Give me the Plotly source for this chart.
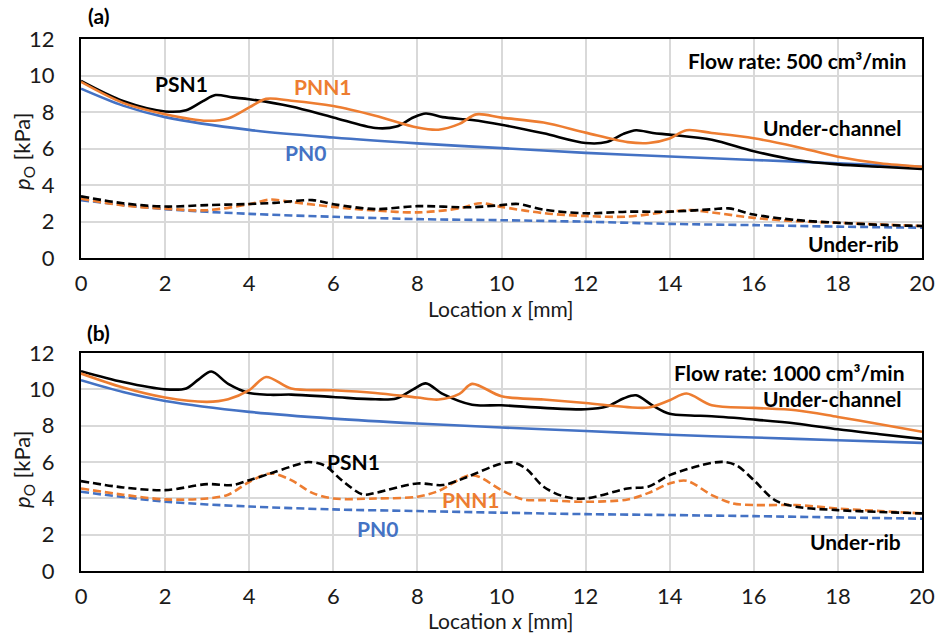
import plotly.graph_objects as go

# ---- Flow rate 500 cm3/min : under-channel (solid) ----
a_pn0_x = [0, 1, 2, 4, 6, 8, 10, 12, 14, 16, 18, 20]
a_pn0_y = [9.28, 8.35, 7.72, 7.02, 6.6, 6.28, 6.02, 5.76, 5.56, 5.37, 5.19, 5.0]

a_psn1_x = [0, 1, 2, 2.5, 2.9, 3.2, 3.6, 4, 5, 6, 7, 7.5, 7.9, 8.2, 8.6, 9.3, 10, 11, 12, 12.5, 12.9, 13.2, 13.6, 14, 15, 16, 17, 18, 19, 20]
a_psn1_y = [9.7, 8.6, 8.03, 8.1, 8.6, 8.93, 8.8, 8.7, 8.3, 7.7, 7.12, 7.2, 7.7, 7.92, 7.72, 7.56, 7.3, 6.83, 6.3, 6.35, 6.8, 7.0, 6.85, 6.76, 6.48, 5.85, 5.37, 5.13, 5.0, 4.88]

a_pnn1_x = [0, 1, 2, 3, 3.5, 4, 4.4, 5, 6, 7, 8, 8.5, 9, 9.4, 10, 11, 12, 13, 13.5, 14, 14.4, 15, 16, 17, 18, 19, 20]
a_pnn1_y = [9.65, 8.5, 7.88, 7.52, 7.65, 8.25, 8.72, 8.62, 8.33, 7.8, 7.15, 7.03, 7.35, 7.87, 7.69, 7.42, 6.87, 6.35, 6.3, 6.55, 7.0, 6.85, 6.56, 6.1, 5.55, 5.19, 5.0]

# ---- Flow rate 500 cm3/min : under-rib (dashed) ----
a_pn0r_x = [0, 2, 4, 6, 8, 10, 12, 14, 16, 18, 20]
a_pn0r_y = [3.17, 2.68, 2.42, 2.26, 2.13, 2.07, 1.99, 1.87, 1.8, 1.72, 1.66]

a_psn1r_x = [0, 1, 2, 3, 4, 4.6, 5.5, 6, 7, 8, 9.3, 10, 10.4, 11, 12, 13, 14, 15, 15.4, 16, 17, 18, 19, 20]
a_psn1r_y = [3.38, 3.0, 2.82, 2.9, 2.96, 3.02, 3.17, 2.95, 2.68, 2.84, 2.78, 2.9, 2.96, 2.65, 2.45, 2.54, 2.54, 2.67, 2.72, 2.38, 2.08, 1.93, 1.82, 1.75]

a_pnn1r_x = [0, 1, 2, 3, 4, 4.5, 5, 6, 7, 8, 9, 9.5, 10, 11, 12, 13, 14, 14.5, 15, 16, 17, 18, 19, 20]
a_pnn1r_y = [3.25, 2.88, 2.7, 2.62, 2.95, 3.2, 3.07, 2.8, 2.6, 2.5, 2.72, 3.0, 2.8, 2.46, 2.3, 2.27, 2.54, 2.63, 2.5, 2.2, 2.02, 1.93, 1.84, 1.75]

# ---- Flow rate 1000 cm3/min : under-channel (solid) ----
b_pn0_x = [0, 1, 2, 4, 6, 8, 10, 12, 14, 16, 18, 20]
b_pn0_y = [10.5, 9.85, 9.36, 8.76, 8.39, 8.12, 7.9, 7.71, 7.5, 7.35, 7.2, 7.05]

b_psn1_x = [0, 1, 2, 2.5, 2.8, 3.1, 3.5, 4, 4.5, 5, 6, 7, 7.5, 7.9, 8.2, 8.6, 9.3, 10, 11, 12, 12.5, 12.9, 13.2, 13.6, 14, 14.5, 15, 16, 17, 18, 19, 20]
b_psn1_y = [11.0, 10.4, 10.0, 10.05, 10.55, 10.98, 10.3, 9.8, 9.7, 9.71, 9.58, 9.45, 9.5, 10.0, 10.33, 9.75, 9.15, 9.12, 8.98, 8.9, 9.05, 9.5, 9.67, 9.1, 8.65, 8.56, 8.52, 8.34, 8.12, 7.8, 7.53, 7.27]

b_pnn1_x = [0, 1, 2, 3, 3.5, 4, 4.4, 5, 6, 7, 8, 8.5, 9, 9.3, 10, 11, 12, 13, 13.5, 14, 14.4, 15, 16, 17, 18, 19, 20]
b_pnn1_y = [10.87, 10.1, 9.55, 9.31, 9.45, 9.95, 10.68, 10.04, 9.95, 9.8, 9.55, 9.44, 9.75, 10.3, 9.62, 9.44, 9.25, 9.02, 9.0, 9.4, 9.77, 9.12, 8.98, 8.85, 8.48, 8.08, 7.66]

# ---- Flow rate 1000 cm3/min : under-rib (dashed) ----
b_pn0r_x = [0, 2, 4, 6, 8, 10, 12, 14, 16, 18, 20]
b_pn0r_y = [4.36, 3.82, 3.55, 3.39, 3.3, 3.21, 3.13, 3.08, 3.02, 2.95, 2.88]

b_psn1r_x = [0, 1, 2, 3, 3.6, 4, 4.5, 5, 5.4, 5.8, 6.2, 6.7, 7, 8, 8.6, 9.1, 10, 10.3, 10.6, 11, 11.5, 12, 13, 13.5, 14, 15, 15.3, 15.6, 16, 16.5, 17, 18, 19, 20]
b_psn1r_y = [4.95, 4.6, 4.45, 4.78, 4.73, 5.0, 5.37, 5.75, 6.0, 5.8, 5.0, 4.21, 4.3, 4.82, 4.73, 5.1, 5.92, 5.97, 5.6, 4.64, 4.09, 3.99, 4.54, 4.65, 5.28, 5.95, 6.0, 5.8, 5.0, 3.9, 3.54, 3.35, 3.25, 3.17]

b_pnn1r_x = [0, 1, 2, 3, 3.5, 4, 4.5, 5, 5.5, 6, 7, 8, 8.5, 9.3, 10, 10.5, 11, 12, 13, 13.5, 14, 14.4, 15, 15.5, 16, 17, 18, 19, 20]
b_pnn1r_y = [4.54, 4.2, 3.94, 3.99, 4.2, 4.9, 5.37, 5.0, 4.3, 3.99, 3.99, 4.09, 4.4, 5.28, 4.45, 3.94, 3.9, 3.81, 3.94, 4.3, 4.82, 4.97, 4.18, 3.72, 3.63, 3.63, 3.44, 3.3, 3.17]

x_ticks = [0, 2, 4, 6, 8, 10, 12, 14, 16, 18, 20]
y_ticks = [0, 2, 4, 6, 8, 10, 12]

BLACK = "#000000"
ORANGE = "#ED7D31"
BLUE = "#4472C4"
TEXT = "#1A1A1A"
FONT = "Lato"

fig = go.Figure()

def add_line(xs, ys, color, dashed, axes):
    fig.add_trace(go.Scatter(
        x=xs, y=ys, mode="lines",
        line=dict(color=color, width=2.6, shape="spline", smoothing=0.9,
                  dash="8px,4px" if dashed else "solid"),
        xaxis="x" if axes == 1 else "x2",
        yaxis="y" if axes == 1 else "y2",
        showlegend=False, hoverinfo="skip",
    ))

# panel (a)
add_line(a_pn0r_x, a_pn0r_y, BLUE, True, 1)
add_line(a_pnn1r_x, a_pnn1r_y, ORANGE, True, 1)
add_line(a_psn1r_x, a_psn1r_y, BLACK, True, 1)
add_line(a_pn0_x, a_pn0_y, BLUE, False, 1)
add_line(a_psn1_x, a_psn1_y, BLACK, False, 1)
add_line(a_pnn1_x, a_pnn1_y, ORANGE, False, 1)
# panel (b)
add_line(b_pn0r_x, b_pn0r_y, BLUE, True, 2)
add_line(b_pnn1r_x, b_pnn1r_y, ORANGE, True, 2)
add_line(b_psn1r_x, b_psn1r_y, BLACK, True, 2)
add_line(b_pn0_x, b_pn0_y, BLUE, False, 2)
add_line(b_psn1_x, b_psn1_y, BLACK, False, 2)
add_line(b_pnn1_x, b_pnn1_y, ORANGE, False, 2)

x_dom = [81 / 938, 922 / 938]
ya_dom = [(634 - 258) / 634, (634 - 39) / 634]
yb_dom = [(634 - 571) / 634, (634 - 353) / 634]

xaxis_common = dict(
    range=[0, 20], tickvals=x_ticks, showgrid=True, gridcolor="#D9D9D9", gridwidth=2,
    showline=True, linecolor=BLACK, linewidth=2, mirror=True, zeroline=False,
    ticks="", ticklabelstandoff=5, tickfont=dict(family=FONT, size=22, color=TEXT),
    domain=x_dom, fixedrange=True, automargin=False,
)
yaxis_common = dict(
    range=[0, 12], tickvals=y_ticks, showgrid=True, gridcolor="#D9D9D9", gridwidth=2,
    showline=True, linecolor=BLACK, linewidth=2, mirror=True, zeroline=False,
    ticks="", ticklabelstandoff=20, tickfont=dict(family=FONT, size=22, color=TEXT),
    fixedrange=True, automargin=False,
)

fig.update_layout(
    width=938, height=634,
    margin=dict(l=0, r=0, t=0, b=0, autoexpand=False),
    paper_bgcolor="white", plot_bgcolor="white",
    font=dict(family=FONT, color=BLACK),
    xaxis=dict(**xaxis_common, anchor="y"),
    yaxis=dict(**yaxis_common, domain=ya_dom, anchor="x"),
    xaxis2=dict(**xaxis_common, anchor="y2"),
    yaxis2=dict(**yaxis_common, domain=yb_dom, anchor="x2"),
)

def label(text, x, y, axes, color=BLACK, xanchor="center", size=21):
    fig.add_annotation(
        text=f"<b>{text}</b>", x=x, y=y,
        xref="x" if axes == 1 else "x2", yref="y" if axes == 1 else "y2",
        xanchor=xanchor, yanchor="middle", showarrow=False,
        font=dict(family=FONT, size=size, color=color),
    )

# panel (a) labels
label("PSN1", 2.4, 9.55, 1)
label("PNN1", 5.76, 9.4, 1, ORANGE)
label("PN0", 5.35, 5.77, 1, BLUE)
label("Flow rate: 500 cm³/min", 19.67, 10.8, 1, xanchor="right")
label("Under-channel", 19.55, 7.14, 1, xanchor="right")
label("Under-rib", 19.5, 0.82, 1, xanchor="right")
# panel (b) labels
label("PSN1", 6.49, 6.01, 2)
label("PNN1", 9.28, 3.96, 2, ORANGE)
label("PN0", 7.06, 2.36, 2, BLUE)
label("Flow rate: 1000 cm³/min", 19.65, 10.9, 2, xanchor="right")
label("Under-channel", 19.55, 9.51, 2, xanchor="right")
label("Under-rib", 19.55, 1.61, 2, xanchor="right")

def paper_text(text, px, py, size=22, angle=0, bold=False):
    t = f"<b>{text}</b>" if bold else text
    fig.add_annotation(
        text=t, x=px / 938, y=1 - py / 634, xref="paper", yref="paper",
        xanchor="center", yanchor="middle", showarrow=False, textangle=angle,
        font=dict(family=FONT, size=size, color=BLACK if bold else TEXT),
    )

paper_text("(a)", 98, 16, size=21, bold=True)
paper_text("(b)", 98, 332, size=21, bold=True)
paper_text("Location <i>x</i> [mm]", 501, 308, size=21)
paper_text("Location <i>x</i> [mm]", 501, 620, size=21)
paper_text("<i>p</i><sub>O</sub> [kPa]", 23, 152, angle=-90)
paper_text("<i>p</i><sub>O</sub> [kPa]", 23, 470, angle=-90)

fig.write_html("out.html")
